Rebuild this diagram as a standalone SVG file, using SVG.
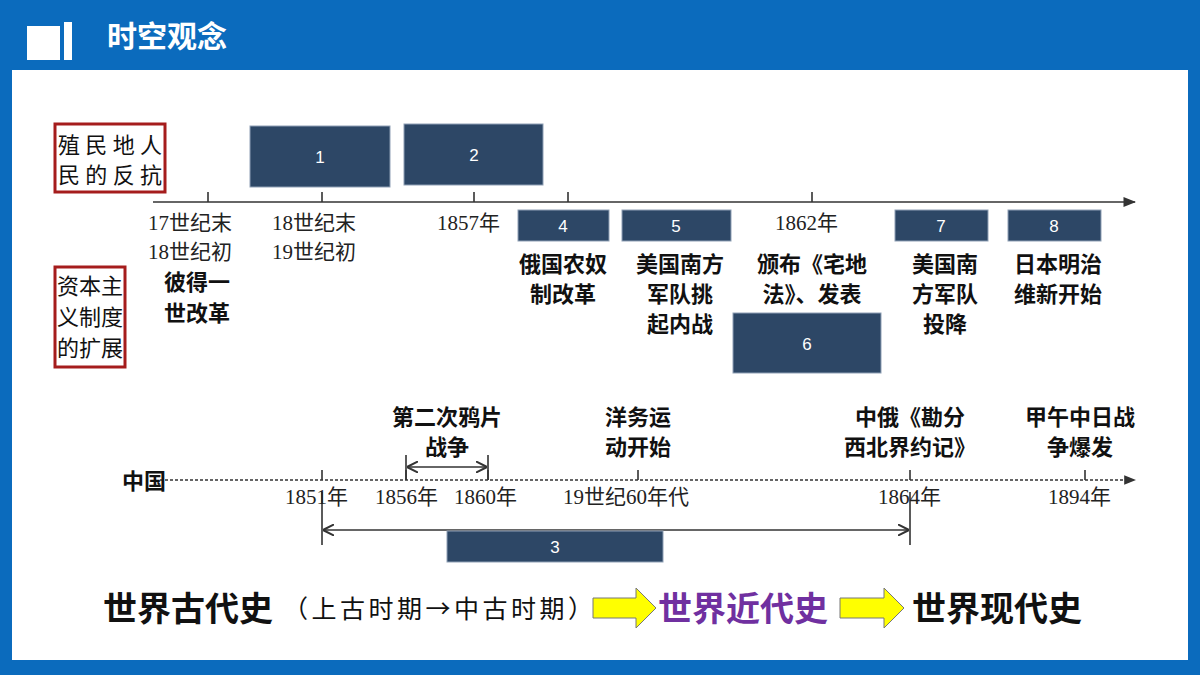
<svg xmlns="http://www.w3.org/2000/svg" width="1200" height="675" viewBox="0 0 1200 675">
<defs>
<style>
.s{font-family:"Liberation Serif","Noto Sans CJK SC",serif;font-size:21px;fill:#222}
.r{font-family:"Noto Sans CJK SC",sans-serif;font-size:22px;fill:#111}
.b{font-family:"Noto Sans CJK SC",sans-serif;font-size:22px;font-weight:bold;fill:#111}
.n{font-family:"Liberation Sans",sans-serif;font-size:17px;fill:#fff}
.box{fill:#2d4766;stroke:#8fa0b5;stroke-width:1}
.ln{stroke:#333;stroke-width:1.6;fill:none}
.big{font-family:"Noto Sans CJK SC",sans-serif;font-size:34px;font-weight:bold}
</style>
<marker id="ar" viewBox="0 0 10 10" refX="9" refY="5" markerWidth="8" markerHeight="8" orient="auto-start-reverse"><path d="M0,1 L10,5 L0,9 z" fill="#333"/></marker>
<marker id="ah" viewBox="0 0 10 10" refX="9" refY="5" markerWidth="7" markerHeight="7" orient="auto-start-reverse"><path d="M0,0 L10,5 L0,10" fill="none" stroke="#333" stroke-width="1.8"/></marker>
</defs>
<rect width="1200" height="675" fill="#0b6bbd"/>
<rect x="12" y="70" width="1176" height="590" fill="#fff"/>
<rect x="27" y="26" width="33" height="34" fill="#fff"/>
<rect x="64" y="22" width="8" height="38" fill="#fff"/>
<text x="107" y="47" font-family="Noto Sans CJK SC,sans-serif" font-size="30" font-weight="bold" fill="#fff">时空观念</text>

<g id="labels">
<rect x="55" y="124" width="110" height="68" fill="#fff" stroke="#a51c1c" stroke-width="3"/>
<text class="r" x="58" y="153" textLength="104">殖民地人</text><text class="r" x="58" y="183" textLength="104">民的反抗</text>
<rect x="55" y="267" width="70" height="100" fill="#fff" stroke="#a51c1c" stroke-width="3"/>
<text class="r" x="57" y="294">资本主</text><text class="r" x="57" y="325">义制度</text><text class="r" x="57" y="356">的扩展</text>
</g>

<g id="connectors">
<line class="ln" x1="153" y1="202" x2="1135" y2="202" marker-end="url(#ar)"/>
<path class="ln" d="M208,192V202M322,192V202M474,192V202M568,192V202M812,192V202"/>
<line x1="160" y1="480" x2="1135" y2="480" stroke="#333" stroke-width="1.5" stroke-dasharray="3,2" marker-end="url(#ar)"/>
<path class="ln" d="M322,470V480M406,470V480M488,470V480M638,470V480M910,470V480M1085,470V480"/>
<path class="ln" d="M406,455V480M488,455V480"/>
<line class="ln" x1="408" y1="467" x2="486" y2="467" marker-start="url(#ah)" marker-end="url(#ah)"/>
<path class="ln" d="M322,492V545M910,492V545"/>
<line class="ln" x1="324" y1="530" x2="908" y2="530" marker-start="url(#ah)" marker-end="url(#ah)"/>
</g>

<g id="n1"><rect class="box" x="250" y="126" width="140" height="61"/><text class="n" x="320" y="163" text-anchor="middle">1</text></g>
<g id="n2"><rect class="box" x="404" y="124" width="139" height="61"/><text class="n" x="474" y="161" text-anchor="middle">2</text></g>
<g id="n4"><rect class="box" x="518" y="210" width="91" height="31"/><text class="n" x="563" y="232" text-anchor="middle">4</text></g>
<g id="n5"><rect class="box" x="622" y="210" width="109" height="31"/><text class="n" x="676" y="232" text-anchor="middle">5</text></g>
<g id="n6"><rect class="box" x="733" y="313" width="148" height="60"/><text class="n" x="807" y="350" text-anchor="middle">6</text></g>
<g id="n7"><rect class="box" x="895" y="210" width="93" height="31"/><text class="n" x="941" y="232" text-anchor="middle">7</text></g>
<g id="n8"><rect class="box" x="1008" y="210" width="93" height="31"/><text class="n" x="1054" y="232" text-anchor="middle">8</text></g>
<g id="n3"><rect class="box" x="447" y="531" width="216" height="31"/><text class="n" x="555" y="553" text-anchor="middle">3</text></g>

<g id="texts">
<text class="s" x="148" y="230">17世纪末</text><text class="s" x="148" y="259">18世纪初</text>
<text class="s" x="272" y="230">18世纪末</text><text class="s" x="272" y="259">19世纪初</text>
<text class="s" x="437" y="230">1857年</text>
<text class="s" x="775" y="230">1862年</text>
<text class="b" x="164" y="290">彼得一</text><text class="b" x="164" y="321">世改革</text>
<text class="b" x="563" y="272" text-anchor="middle">俄国农奴</text><text class="b" x="563" y="302" text-anchor="middle">制改革</text>
<text class="b" x="680" y="272" text-anchor="middle">美国南方</text><text class="b" x="680" y="302" text-anchor="middle">军队挑</text><text class="b" x="680" y="332" text-anchor="middle">起内战</text>
<text class="b" x="812" y="272" text-anchor="middle">颁布《宅地</text><text class="b" x="812" y="302" text-anchor="middle">法》、发表</text>
<text class="b" x="945" y="272" text-anchor="middle">美国南</text><text class="b" x="945" y="302" text-anchor="middle">方军队</text><text class="b" x="945" y="332" text-anchor="middle">投降</text>
<text class="b" x="1058" y="272" text-anchor="middle">日本明治</text><text class="b" x="1058" y="302" text-anchor="middle">维新开始</text>
<text class="b" x="447" y="425" text-anchor="middle">第二次鸦片</text><text class="b" x="447" y="455" text-anchor="middle">战争</text>
<text class="b" x="638" y="425" text-anchor="middle">洋务运</text><text class="b" x="638" y="455" text-anchor="middle">动开始</text>
<text class="b" x="910" y="425" text-anchor="middle">中俄《勘分</text><text class="b" x="910" y="455" text-anchor="middle">西北界约记》</text>
<text class="b" x="1080" y="425" text-anchor="middle">甲午中日战</text><text class="b" x="1080" y="455" text-anchor="middle">争爆发</text>
<text class="b" x="122" y="489">中国</text>
<text class="s" x="285" y="504">1851年</text>
<text class="s" x="375" y="504">1856年</text>
<text class="s" x="454" y="504">1860年</text>
<text class="s" x="563" y="504">19世纪60年代</text>
<text class="s" x="878" y="504">1864年</text>
<text class="s" x="1048" y="504">1894年</text>
<text class="big" x="103" y="621" fill="#111">世界古代史</text>
<text x="283" y="618" font-family="Noto Sans CJK SC,sans-serif" font-size="25" fill="#111" textLength="310">（上古时期→中古时期）</text>
<text class="big" x="658" y="621" fill="#7030a0">世界近代史</text>
<text class="big" x="912" y="621" fill="#111">世界现代史</text>
<path d="M593,598H636V588L656,608L636,628V618H593Z" fill="#ffff00" stroke="#777" stroke-width="1"/>
<path d="M840,598H884V588L904,608L884,628V618H840Z" fill="#ffff00" stroke="#777" stroke-width="1"/>
</g>
</svg>
